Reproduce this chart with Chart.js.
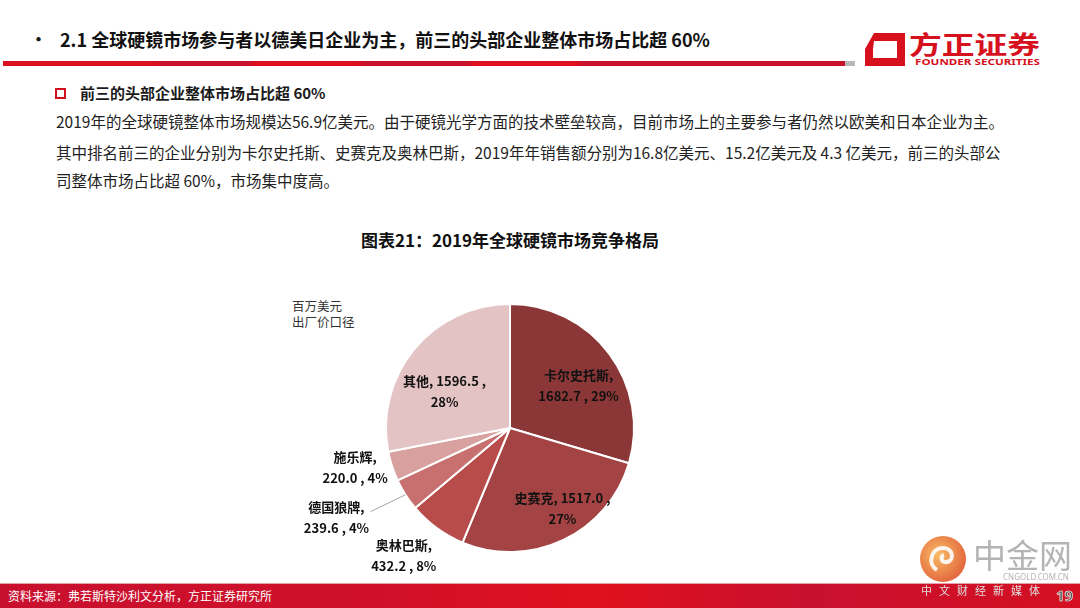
<!DOCTYPE html>
<html>
<head>
<meta charset="utf-8">
<title>2019年全球硬镜市场竞争格局</title>
<script src="https://cdn.jsdelivr.net/npm/chart.js"></script>
<style>
    body { margin: 0; width: 1080px; height: 608px; position: relative; overflow: hidden; background: #fff;
           font-family: "Noto Sans CJK SC", "Noto Sans", sans-serif; color: #1a1a1a; }
    .abs { position: absolute; white-space: nowrap; line-height: 1; }
    .title { left: 60px; top: 30px; font-size: 18px; font-weight: bold; color: #111; }
    .bullet { left: 30px; top: 30px; font-size: 17px; font-weight: bold; }
    .redline { left: 3px; top: 61px; width: 842px; height: 5px;
               background: linear-gradient(to right, #dc1120 0%, #dc1120 18%, #c8122c 19%, #c8122c 29%, #de1020 30%, #de1020 42%, #c8122c 43%, #c8122c 55%, #df1020 56%, #df1020 68%, #c8122c 69%, #c8122c 100%); }
    .greyend { left: 845px; top: 61px; width: 10px; height: 5px; background: #b8b8b8; }
    .sub { left: 80px; top: 85px; font-size: 15px; font-weight: bold; }
    .box { left: 55px; top: 88px; width: 7px; height: 7px; border: 2px solid #d0101e; }
    .body { left: 56px; font-size: 15.5px; color: #222; }
    .ctitle { left: 0; width: 1020px; text-align: center; top: 231px; font-size: 17px; font-weight: bold; color: #111; }
    .unit { left: 292px; font-size: 12.5px; color: #333; }
    .footer { left: 0; top: 583px; width: 1080px; height: 25px;
              background: linear-gradient(to right, #c8102e 0%, #d0102a 35%, #e0101e 55%, #c8102e 75%, #d51022 100%);
              border-top: 1px solid #e8a0a8; }
    .src { left: 8px; top: 590px; font-size: 12px; color: #fff; }
    #chart { position: absolute; left: 260px; top: 268px; }
</style>
</head>
<body>
<div class="abs bullet">•</div>
<div class="abs title">2.1 全球硬镜市场参与者以德美日企业为主，前三的头部企业整体市场占比超 60%</div>
<div class="abs redline"></div>
<div class="abs greyend"></div>

<svg class="abs" style="left:862px;top:30px" width="190" height="40">
    <path d="M12 3 L43 3 L43 36 L3 36 L3 19 L11 19 L11 28 L35 28 L35 11 L12 11 Z" fill="#d7101e"/>
    <path d="M3 19 L12 3 L12 11 L11 19 Z" fill="#d7101e"/>
    <text x="47" y="24" font-size="25" font-weight="bold" fill="#d7101e" font-family="Noto Sans CJK SC"
          textLength="131" lengthAdjust="spacingAndGlyphs">方正证券</text>
    <text x="53" y="35" font-size="9" font-weight="bold" fill="#d7101e" font-family="Noto Sans, sans-serif"
          textLength="125" lengthAdjust="spacingAndGlyphs">FOUNDER SECURITIES</text>
</svg>

<div class="abs box"></div>
<div class="abs sub">前三的头部企业整体市场占比超 60%</div>
<div class="abs body" style="top:114px">2019年的全球硬镜整体市场规模达56.9亿美元。由于硬镜光学方面的技术壁垒较高，目前市场上的主要参与者仍然以欧美和日本企业为主。</div>
<div class="abs body" style="top:145px">其中排名前三的企业分别为卡尔史托斯、史赛克及奥林巴斯，2019年年销售额分别为16.8亿美元、15.2亿美元及 4.3 亿美元，前三的头部公</div>
<div class="abs body" style="top:173px">司整体市场占比超 60%，市场集中度高。</div>

<div class="abs ctitle">图表21：2019年全球硬镜市场竞争格局</div>
<div class="abs unit" style="top:300px">百万美元</div>
<div class="abs unit" style="top:316px">出厂价口径</div>

<canvas id="chart" width="500" height="320"></canvas>

<div class="abs footer"></div>
<div class="abs src">资料来源：弗若斯特沙利文分析，方正证券研究所</div>

<svg class="abs" style="left:915px;top:530px" width="165" height="78">
    <defs>
        <radialGradient id="wm" cx="40%" cy="40%" r="60%">
            <stop offset="0%" stop-color="#f7b04a"/>
            <stop offset="100%" stop-color="#e0501e"/>
        </radialGradient>
    </defs>
    <circle cx="28" cy="29" r="23" fill="url(#wm)" opacity="0.85"/>
    <path d="M22 40 C12 34 16 18 28 18 C38 18 40 30 32 32 C26 33 25 26 29 25" stroke="#fff" stroke-width="4" fill="none" opacity="0.9"/>
    <text x="58" y="38" font-size="33" fill="#b4b4b4" font-family="Noto Sans CJK SC">中金网</text>
    <text x="88" y="50" font-size="8" fill="#b4b4b4" font-family="Noto Sans, sans-serif">CNGOLD.COM.CN</text>
    <text x="6" y="65" font-size="11" fill="#e0e0e0" letter-spacing="7" font-family="Noto Sans CJK SC">中文财经新媒体</text>
    <text x="141" y="71" font-size="15" font-weight="bold" fill="#555" stroke="#fff" stroke-width="0.6" font-family="Noto Sans, sans-serif">19</text>
</svg>

<script>
    const categories = ['卡尔史托斯', '史赛克', '奥林巴斯', '德国狼牌', '施乐辉', '其他'];
    const sales = [1682.7, 1517.0, 432.2, 239.6, 220.0, 1596.5];
    const shares = ['29%', '27%', '8%', '4%', '4%', '28%'];
    const colors = ['#8b3737', '#a34343', '#b84c4a', '#c87070', '#d9a0a0', '#e4c3c4'];

    // label text lines per slice
    const labelLines = [
        [categories[0] + ',', sales[0].toFixed(1) + ' , ' + shares[0]],
        [categories[1] + ', ' + sales[1].toFixed(1) + ' ,', shares[1]],
        [categories[2] + ',', sales[2].toFixed(1) + ' , ' + shares[2]],
        [categories[3] + ',', sales[3].toFixed(1) + ' , ' + shares[3]],
        [categories[4] + ',', sales[4].toFixed(1) + ' , ' + shares[4]],
        [categories[5] + ', ' + sales[5].toFixed(1) + ' ,', shares[5]]
    ];
    // where each label sits: fraction of radius along mid angle, plus nudge
    const labelPlace = [
        { f: 0.65, dx: 4, dy: 6 },
        { f: 0.72, dx: 14, dy: 0 },
        { f: 1.0, dx: -33, dy: 27 },
        { f: 1.0, dx: -69, dy: 23, leader: true },
        { f: 1.0, dx: -37, dy: 1 },
        { f: 0.6, dx: -8, dy: 11 }
    ];

    const pieLabels = {
        id: 'pieLabels',
        afterDatasetsDraw(chart) {
            const ctx = chart.ctx;
            const arcs = chart.getDatasetMeta(0).data;
            ctx.save();
            ctx.font = 'bold 13px "Noto Sans CJK SC", sans-serif';
            ctx.fillStyle = '#111';
            ctx.textAlign = 'center';
            ctx.textBaseline = 'middle';
            arcs.forEach((arc, i) => {
                const p = labelPlace[i];
                const mid = (arc.startAngle + arc.endAngle) / 2;
                const r = arc.outerRadius * p.f;
                const x = arc.x + Math.cos(mid) * r + p.dx;
                const y = arc.y + Math.sin(mid) * r + p.dy;
                if (p.leader) {
                    ctx.strokeStyle = '#a6a6a6';
                    ctx.lineWidth = 1;
                    ctx.beginPath();
                    ctx.moveTo(arc.x + Math.cos(mid) * arc.outerRadius, arc.y + Math.sin(mid) * arc.outerRadius);
                    ctx.lineTo(x + 34, y - 6);
                    ctx.stroke();
                }
                const lines = labelLines[i];
                ctx.fillText(lines[0], x, y - 10.5);
                ctx.fillText(lines[1], x, y + 10.5);
            });
            ctx.restore();
        }
    };

    new Chart(document.getElementById('chart').getContext('2d'), {
        type: 'pie',
        data: {
            labels: categories,
            datasets: [{
                data: sales,
                backgroundColor: colors,
                borderColor: '#ffffff',
                borderWidth: 2
            }]
        },
        options: {
            responsive: false,
            animation: false,
            radius: 124,
            layout: { padding: 0 },
            plugins: {
                legend: { display: false },
                tooltip: { enabled: false }
            }
        },
        plugins: [pieLabels]
    });
</script>
</body>
</html>
